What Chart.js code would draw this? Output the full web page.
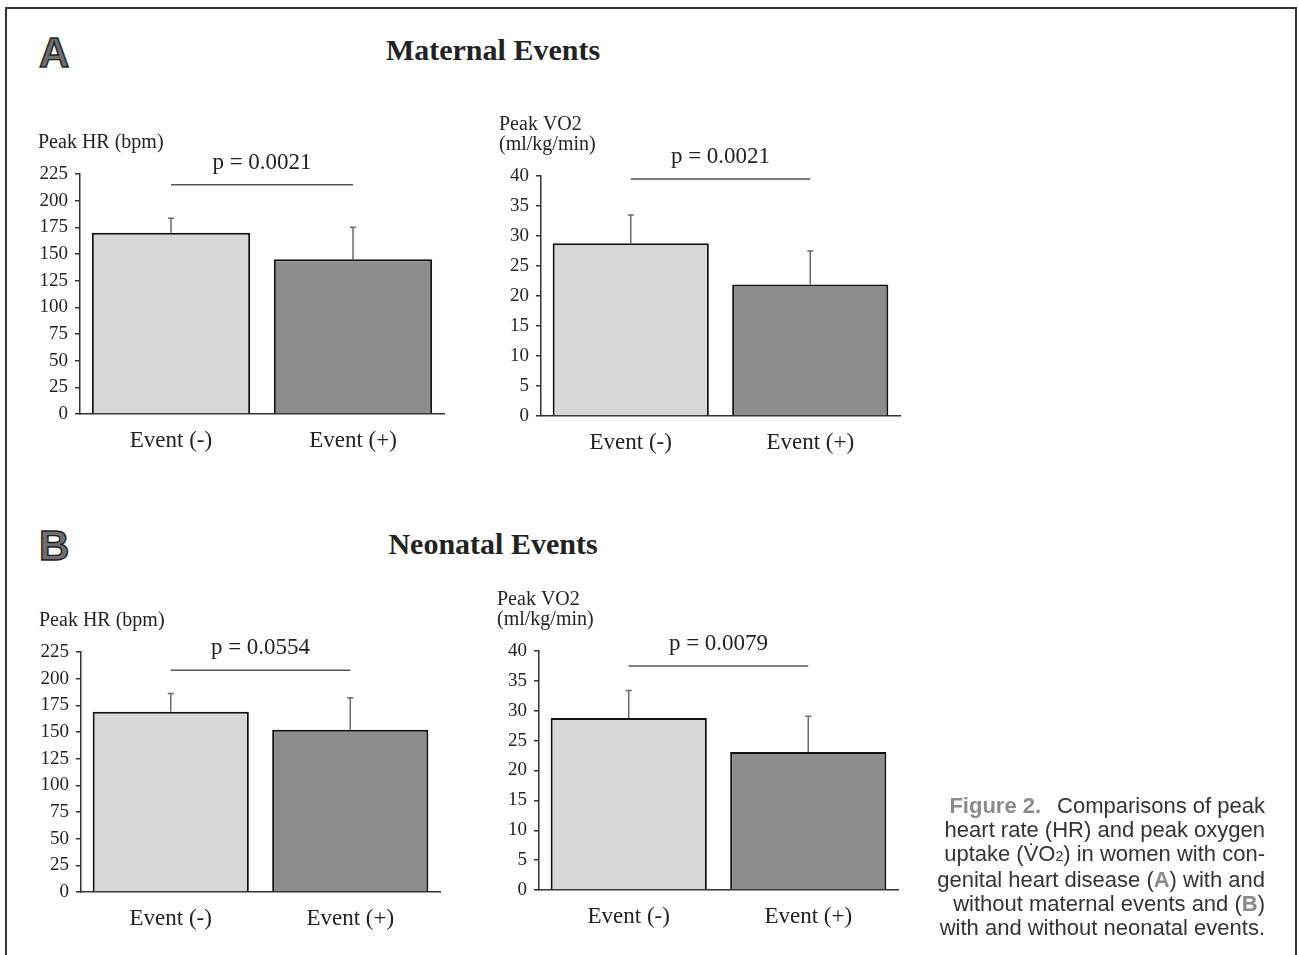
<!DOCTYPE html>
<html>
<head>
<meta charset="utf-8">
<script src="https://cdn.jsdelivr.net/npm/chart.js@4.4.1/dist/chart.umd.min.js"></script>
<style>
  body { margin: 0; background: #fff; width: 1299px; height: 955px; overflow: hidden; position: relative; font-family: "Liberation Serif", serif; color: #222; }
  #frame { position: absolute; left: 5px; top: 7px; width: 1288px; height: 1000px; border: 2px solid #333; border-bottom: none; }
  .panel { position: absolute; }
  .letter { position: absolute; font-family: "Liberation Sans", sans-serif; font-weight: bold; font-size: 42px; line-height: 41px; color: #6e6e6e; -webkit-text-stroke: 1.4px #1e1e1e; }
  .heading { position: absolute; width: 400px; text-align: center; font-weight: bold; font-size: 30px; line-height: 32px; color: #222; }
  #caption { position: absolute; right: 34px; top: 794px; width: 400px; text-align: right; font-family: "Liberation Sans", sans-serif; font-size: 22px; line-height: 23.8px; color: #333; }
  #caption .fig { font-family: "Liberation Sans Narrow", "Liberation Sans", sans-serif; font-weight: bold; color: #8a8a8a; margin-right: 16px; }
  #caption .ref { font-weight: bold; color: #8a8a8a; }
</style>
</head>
<body>
<div id="frame"></div>

<div class="letter" style="left:39px;top:32px">A</div>
<div class="heading" style="left:293px;top:34px">Maternal Events</div>
<div class="letter" style="left:39px;top:525px">B</div>
<div class="heading" style="left:293px;top:528px">Neonatal Events</div>

<div class="panel" style="left:10px;top:104px"><canvas id="a1" width="454" height="370"></canvas></div>
<div class="panel" style="left:471px;top:106px"><canvas id="a2" width="449" height="370"></canvas></div>
<div class="panel" style="left:11px;top:582px"><canvas id="b1" width="449" height="370"></canvas></div>
<div class="panel" style="left:469px;top:581px"><canvas id="b2" width="449" height="369"></canvas></div>

<div id="caption"><span class="fig">Figure 2.</span>Comparisons of peak<br>heart rate (HR) and peak oxygen<br>uptake (V&#775;O<span style="font-size:14px">2</span>) in women with con-<br>genital heart disease (<span class="ref">A</span>) with and<br>without maternal events and (<span class="ref">B</span>)<br>with and without neonatal events.</div>

<script>
// groups on the x axis
const categories = ["Event (-)", "Event (+)"];

// A: maternal events
const maternalHR = [170, 145];
const maternalHRErr = [13.5, 30];
const maternalVO2 = [28.8, 21.9];
const maternalVO2Err = [4.7, 5.6];

// B: neonatal events
const neonatalHR = [169, 152];
const neonatalHRErr = [17, 30];
const neonatalVO2 = [28.8, 23.1];
const neonatalVO2Err = [4.6, 6.0];

// p-values and the level of the bracket line (axis units)
const pLabels = ["p = 0.0021", "p = 0.0021", "p = 0.0554", "p = 0.0079"];
const bracketLevels = [215, 39.5, 208, 37.5];

// axis ranges
const hrTicks = { max: 225, step: 25 };
const vo2Ticks = { max: 40, step: 5 };
const hrTitle = ["Peak HR (bpm)"];
const vo2Title = ["Peak VO2", "(ml/kg/min)"];

// error bars, p bracket and y title
const figureMarks = {
  id: "figureMarks",
  afterDatasetsDraw(chart, args, opts) {
    const { ctx, chartArea, scales: { y } } = chart;
    const meta = chart.getDatasetMeta(0);
    const vals = chart.data.datasets[0].data;
    ctx.save();

    ctx.strokeStyle = "#6a6a6a";
    ctx.lineWidth = 1.5;
    meta.data.forEach((bar, i) => {
      const top = y.getPixelForValue(vals[i] + opts.errors[i]);
      ctx.beginPath();
      ctx.moveTo(bar.x, bar.y);
      ctx.lineTo(bar.x, top);
      ctx.moveTo(bar.x - 3, top);
      ctx.lineTo(bar.x + 3, top);
      ctx.stroke();
    });

    const by = y.getPixelForValue(opts.bracket);
    const x0 = meta.data[0].x, x1 = meta.data[1].x;
    ctx.strokeStyle = "#555";
    ctx.beginPath();
    ctx.moveTo(x0, by);
    ctx.lineTo(x1, by);
    ctx.stroke();

    ctx.fillStyle = "#222";
    ctx.font = '23px "Liberation Serif"';
    ctx.textAlign = "center";
    ctx.textBaseline = "alphabetic";
    ctx.fillText(opts.pText, (x0 + x1) / 2, by - 16);

    ctx.font = '20px "Liberation Serif"';
    ctx.textAlign = "left";
    ctx.textBaseline = "middle";
    const n = opts.title.length;
    opts.title.forEach((t, k) => {
      ctx.fillText(t, chartArea.left - 42, chartArea.top - 31 - (n - 1 - k) * 20);
    });
    ctx.restore();
  }
};

function makeChart(id, values, errors, range, bracket, pText, title) {
  return new Chart(document.getElementById(id), {
    type: "bar",
    data: {
      labels: categories,
      datasets: [{
        data: values,
        backgroundColor: ["#d7d7d7", "#8d8d8d"],
        borderColor: "#111",
        borderWidth: 2,
        categoryPercentage: 1,
        barPercentage: 0.87
      }]
    },
    options: {
      responsive: false,
      animation: false,
      devicePixelRatio: 1,
      layout: { padding: { top: 70, right: 20, left: 0, bottom: 0 } },
      plugins: {
        legend: { display: false },
        tooltip: { enabled: false },
        figureMarks: { errors, bracket, pText, title }
      },
      scales: {
        x: {
          afterFit: s => { s.height = 60; },
          grid: { display: false },
          border: { display: true, color: "#333", width: 1.5 },
          ticks: { color: "#222", font: { family: "Liberation Serif", size: 23 }, padding: 5 }
        },
        y: {
          min: 0,
          max: range.max,
          afterFit: s => { s.width = 70; },
          grid: { display: true, drawOnChartArea: false, drawTicks: true, tickLength: 5, color: "#333", lineWidth: 1.5 },
          border: { display: true, color: "#333", width: 1.5 },
          ticks: { stepSize: range.step, color: "#222", padding: 7, font: { family: "Liberation Serif", size: 19 } }
        }
      }
    },
    plugins: [figureMarks]
  });
}

makeChart("a1", maternalHR, maternalHRErr, hrTicks, bracketLevels[0], pLabels[0], hrTitle);
makeChart("a2", maternalVO2, maternalVO2Err, vo2Ticks, bracketLevels[1], pLabels[1], vo2Title);
makeChart("b1", neonatalHR, neonatalHRErr, hrTicks, bracketLevels[2], pLabels[2], hrTitle);
makeChart("b2", neonatalVO2, neonatalVO2Err, vo2Ticks, bracketLevels[3], pLabels[3], vo2Title);
</script>
</body>
</html>
